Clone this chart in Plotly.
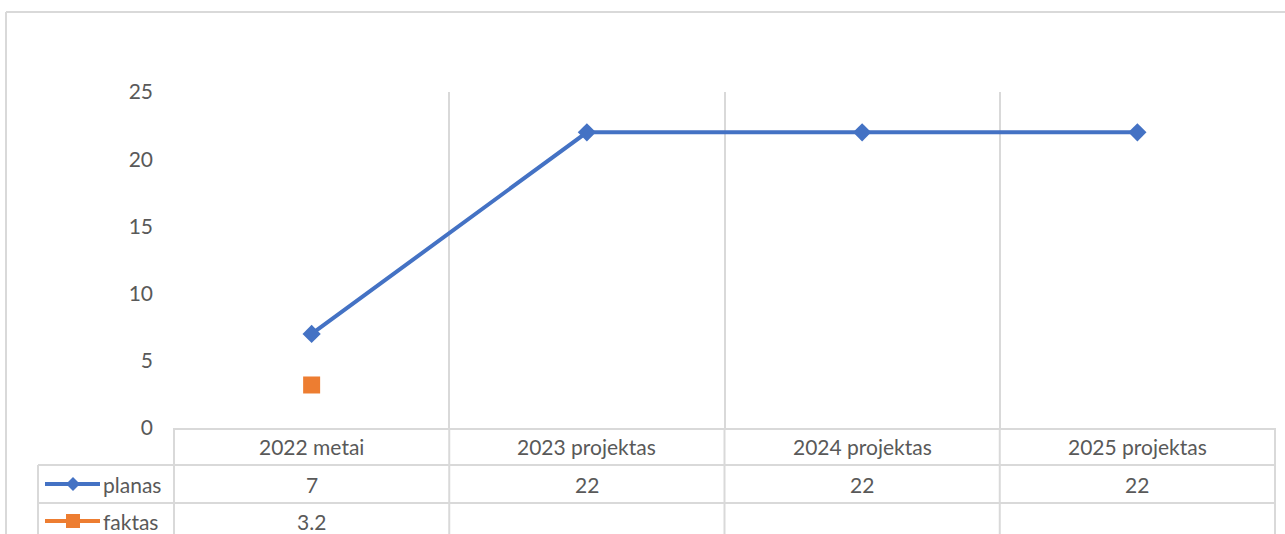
import plotly.graph_objects as go

categories = ["2022 metai", "2023 projektas", "2024 projektas", "2025 projektas"]
planas = [7, 22, 22, 22]
faktas = [3.2, None, None, None]
planas_labels = ["7", "22", "22", "22"]
faktas_labels = ["3.2", "", "", ""]
series_names = ["planas", "faktas"]
y_ticks = [0, 5, 10, 15, 20, 25]

W, H = 1285, 534
L, R, T, B = 174, 10, 92, 106
PW, PH = W - L - R, H - T - B
BLUE = "#4472C4"
ORANGE = "#ED7D31"
GRID = "#D9D9D9"
TXT = "#595959"
FONT = "Lato, Open Sans, sans-serif"
FS = 21

def px(xpix):
    return (xpix - L) / PW

def py(ypix):
    return (H - B - ypix) / PH

n = len(categories)
xs = list(range(n))

fig = go.Figure()
fig.add_trace(go.Scatter(x=xs, y=planas, mode="lines+markers", name=series_names[0],
                         line=dict(color=BLUE, width=4),
                         marker=dict(symbol="diamond", size=14, color=BLUE)))
fig.add_trace(go.Scatter(x=xs, y=faktas, mode="markers", name=series_names[1],
                         marker=dict(symbol="square", size=17, color=ORANGE)))

shapes = []
row_y = [465, 503]
for yy in row_y:
    shapes.append(dict(type="line", xref="paper", yref="paper", x0=px(38), x1=px(1275),
                       y0=py(yy), y1=py(yy), line=dict(color=GRID, width=2)))
for i in range(n + 1):
    xv = px(L + i * PW / n)
    shapes.append(dict(type="line", xref="paper", yref="paper", x0=xv, x1=xv,
                       y0=0, y1=py(540), line=dict(color=GRID, width=2)))
shapes.append(dict(type="line", xref="paper", yref="paper", x0=px(38), x1=px(38),
                   y0=py(465), y1=py(540), line=dict(color=GRID, width=2)))
# outer chart border
shapes.append(dict(type="line", xref="paper", yref="paper", x0=px(6), x1=px(1295),
                   y0=py(12), y1=py(12), line=dict(color=GRID, width=2)))
shapes.append(dict(type="line", xref="paper", yref="paper", x0=px(6), x1=px(6),
                   y0=py(12), y1=py(540), line=dict(color=GRID, width=2)))

# legend keys inside data table
key_y = [484, 521]
key_col = [BLUE, ORANGE]
for yy, c in zip(key_y, key_col):
    shapes.append(dict(type="line", xref="paper", yref="paper", x0=px(45), x1=px(100),
                       y0=py(yy), y1=py(yy), line=dict(color=c, width=4)))
kx = 73
d = 7
shapes.append(dict(type="path", xref="paper", yref="paper", fillcolor=BLUE, line=dict(width=0),
                   path=f"M {px(kx-d)},{py(key_y[0])} L {px(kx)},{py(key_y[0]-d)} "
                        f"L {px(kx+d)},{py(key_y[0])} L {px(kx)},{py(key_y[0]+d)} Z"))
s = 7
shapes.append(dict(type="rect", xref="paper", yref="paper", fillcolor=ORANGE, line=dict(width=0),
                   x0=px(kx - s), x1=px(kx + s), y0=py(key_y[1] - s), y1=py(key_y[1] + s)))

ann = []
for i, c in enumerate(categories):
    ann.append(dict(x=i, y=py(446), xref="x", yref="paper", text=c, showarrow=False,
                    font=dict(family=FONT, size=FS, color=TXT), xanchor="center", yanchor="middle"))
    for lbls, yy in ((planas_labels, 484), (faktas_labels, 521)):
        if lbls[i]:
            ann.append(dict(x=i, y=py(yy), xref="x", yref="paper", text=lbls[i], showarrow=False,
                            font=dict(family=FONT, size=FS, color=TXT), xanchor="center", yanchor="middle"))
for name, yy in zip(series_names, key_y):
    ann.append(dict(x=px(101), y=py(yy), xref="paper", yref="paper", text=name, showarrow=False,
                    font=dict(family=FONT, size=FS, color=TXT), xanchor="left", yanchor="middle"))

fig.update_layout(
    width=W, height=H, margin=dict(l=L, r=R, t=T, b=B),
    paper_bgcolor="white", plot_bgcolor="white", showlegend=False,
    shapes=shapes, annotations=ann,
    xaxis=dict(range=[-0.5, n - 0.5], tickvals=[i - 0.5 for i in range(n + 1)],
               showticklabels=False, showgrid=True, gridcolor=GRID, gridwidth=2,
               zeroline=False, showline=True, linecolor=GRID, linewidth=2, ticks=""),
    yaxis=dict(range=[0, 25], tickvals=y_ticks, showgrid=False, zeroline=False,
               showline=False, ticks="", ticklabelstandoff=20,
               tickfont=dict(family=FONT, size=FS, color=TXT)),
)
fig.write_html("out.html", config={"displayModeBar": False},
               post_script="document.body.style.margin='0px';")
